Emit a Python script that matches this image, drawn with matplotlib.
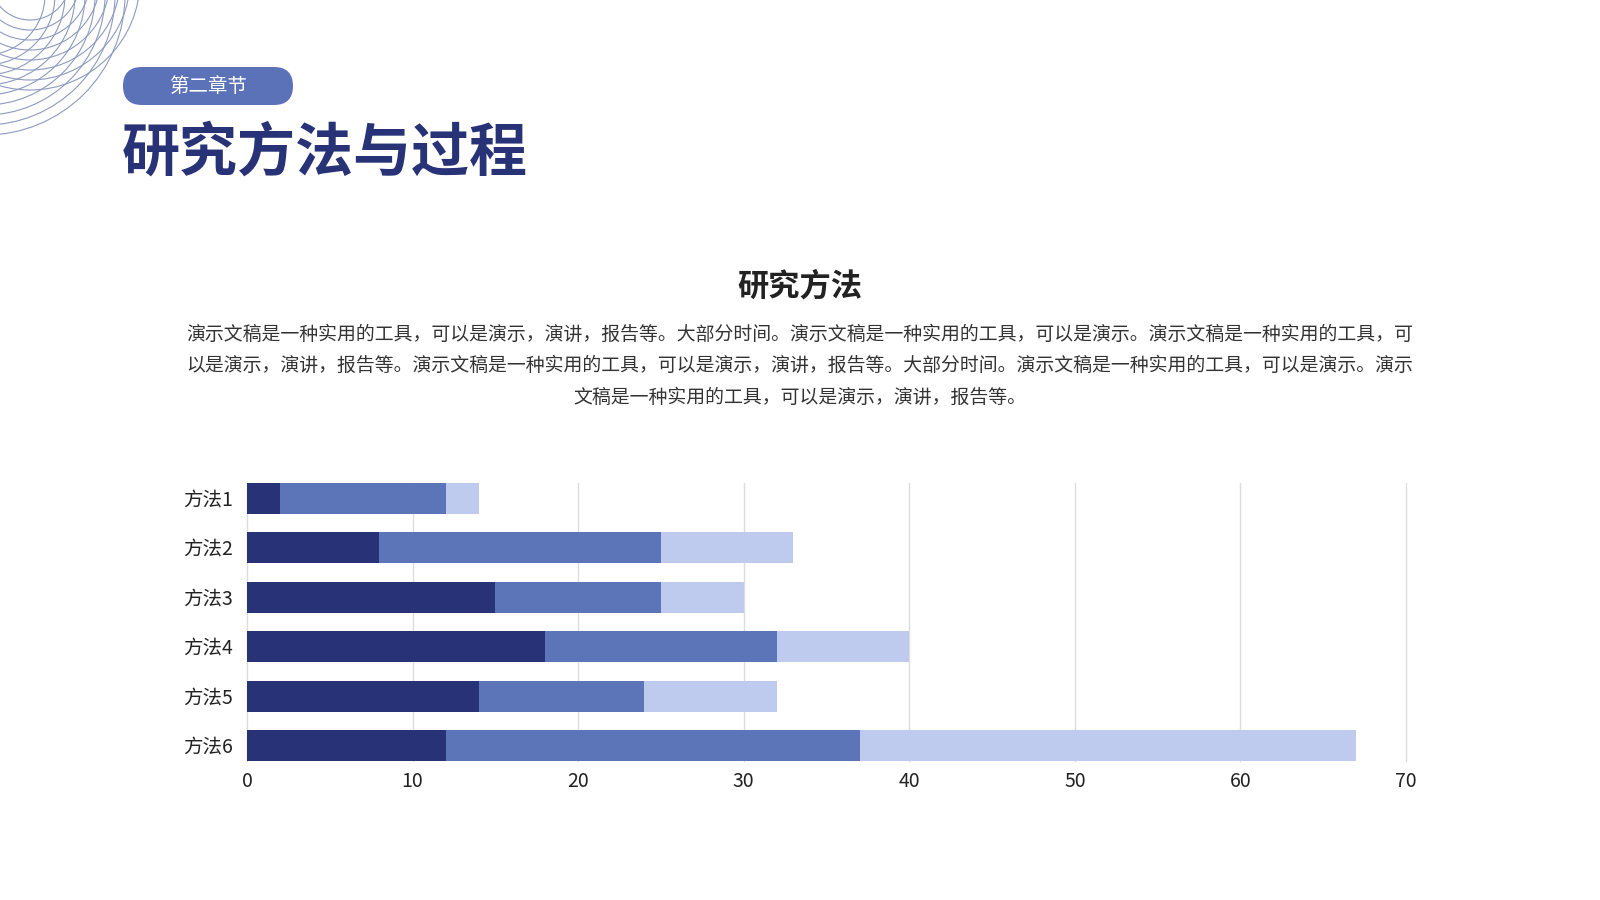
import matplotlib
matplotlib.use("Agg")
import matplotlib.pyplot as plt
from matplotlib.patches import Circle, FancyBboxPatch
import numpy as np

plt.rcParams['font.family'] = ['Noto Sans CJK SC', 'DejaVu Sans']

# ---- data ----
categories = ["方法1", "方法2", "方法3", "方法4", "方法5", "方法6"]
series_a = [2, 8, 15, 18, 14, 12]
series_b = [10, 17, 10, 14, 10, 25]
series_c = [2, 8, 5, 8, 8, 30]
x_ticks = [0, 10, 20, 30, 40, 50, 60, 70]

section_label = "第二章节"
main_title = "研究方法与过程"
sub_title = "研究方法"
para_lines = [
    "演示文稿是一种实用的工具，可以是演示，演讲，报告等。大部分时间。演示文稿是一种实用的工具，可以是演示。演示文稿是一种实用的工具，可",
    "以是演示，演讲，报告等。演示文稿是一种实用的工具，可以是演示，演讲，报告等。大部分时间。演示文稿是一种实用的工具，可以是演示。演示",
    "文稿是一种实用的工具，可以是演示，演讲，报告等。",
]

c_dark = "#283377"
c_mid = "#5C74B8"
c_light = "#BFCBEE"

fig = plt.figure(figsize=(16, 9), dpi=100)
fig.patch.set_facecolor("white")

# background / decoration axes in pixel coordinates
bg = fig.add_axes([0, 0, 1, 1])
bg.set_xlim(0, 1600)
bg.set_ylim(900, 0)
bg.axis("off")

circ_color = "#8E9AC0"
for r in range(60, 141, 10):
    bg.add_patch(Circle((-15, -5), r, fill=False, ec=circ_color, lw=0.8))
for r in range(40, 111, 10):
    bg.add_patch(Circle((30, -20), r, fill=False, ec=circ_color, lw=0.8))

pill = FancyBboxPatch((123, 67), 170, 38,
                      boxstyle="round,pad=0,rounding_size=19",
                      fc="#5B72B8", ec="none")
bg.add_patch(pill)
bg.text(208, 86, section_label, color="white", fontsize=14,
        ha="center", va="center")

bg.text(122, 154, main_title, color=c_dark, fontsize=41.8, fontweight="black",
        ha="left", va="center")

bg.text(800, 287, sub_title, color="#222222", fontsize=22.5, fontweight="bold",
        ha="center", va="center")

for i, line in enumerate(para_lines):
    bg.text(800, 334 + i * 31.5, line, color="#333333", fontsize=13.6,
            ha="center", va="center")

# chart axes
ax = fig.add_axes([247 / 1600, 1 - 761 / 900, (1406 - 247) / 1600, (761 - 483) / 900])
y = np.arange(len(categories))
h = 0.63
left_b = np.array(series_a)
left_c = left_b + np.array(series_b)
ax.barh(y, series_a, height=h, color=c_dark, zorder=3)
ax.barh(y, series_b, left=left_b, height=h, color=c_mid, zorder=3)
ax.barh(y, series_c, left=left_c, height=h, color=c_light, zorder=3)

ax.set_ylim(len(categories) - 1 + h / 2, -h / 2)
ax.set_xlim(0, 70)
ax.set_xticks(x_ticks)
ax.set_yticks(y)
ax.set_yticklabels(categories)
ax.tick_params(axis="both", length=0, labelsize=14, colors="#222222")
ax.tick_params(axis="x", pad=7)
ax.tick_params(axis="y", pad=10)
ax.grid(axis="x", color="#DDDDDD", lw=1, zorder=0)
for gl in ax.get_xgridlines():
    gl.set_clip_on(False)
ax.set_axisbelow(True)
for s in ax.spines.values():
    s.set_visible(False)
ax.set_facecolor("none")

fig.savefig("out.png", dpi=100)
